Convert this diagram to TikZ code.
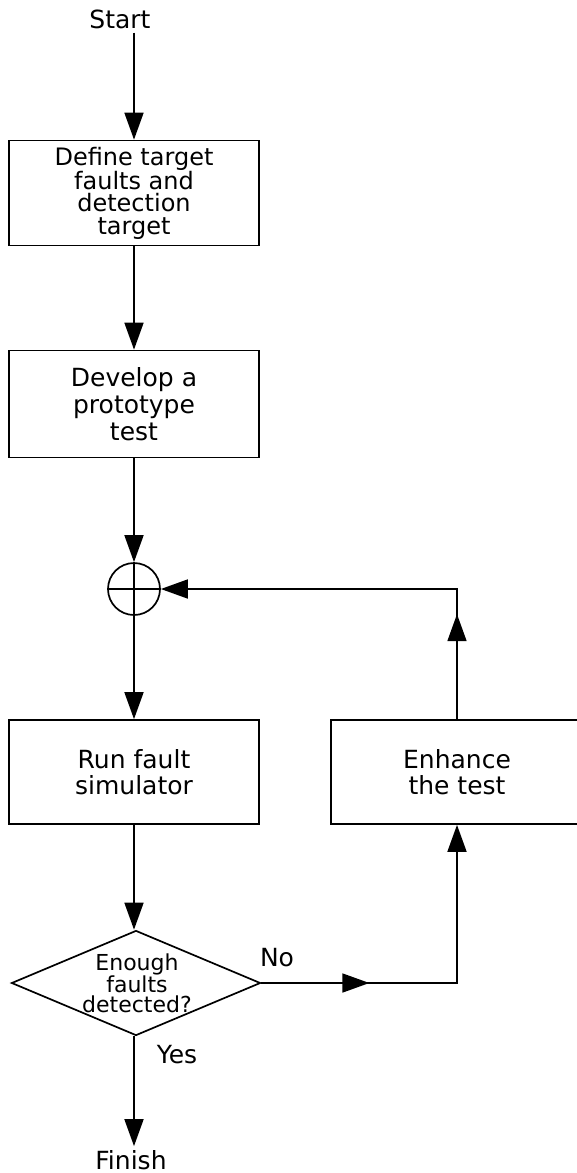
\documentclass[tikz,border=0pt]{standalone}
\usepackage{fontspec}
\setmainfont{DejaVu Sans}
\usetikzlibrary{arrows.meta,shapes.geometric,decorations.markings}
\begin{document}
\begin{tikzpicture}[x=1pt, y=-1pt, line width=1.7pt, >={Triangle[length=27pt,width=19pt]}]
	\tikzset{box/.style={draw, rectangle, inner sep=0pt, minimum width=250pt, minimum height=105pt, align=center, font=\fontsize{25}{26}\selectfont},
		txt/.style={font=\fontsize{25}{26}\selectfont},
		midtip/.style={postaction={decorate}, decoration={markings, mark=at position #1 with {\arrow{>}}}}}
	\useasboundingbox (0,0) rectangle (576,1173);
	\node[txt] (start) at (120,19) {Start};
	\node[box, font=\fontsize{24}{22.5}\selectfont] (def) at (134,193) {Define target\\faults and\\detection\\target};
	\node[box, minimum height=107pt, font=\fontsize{25}{27}\selectfont] (dev) at (134,404) {Develop a\\prototype\\test};
	\node[draw, circle, minimum size=52pt, inner sep=0pt] (sum) at (134,589) {};
	\draw (sum.north) -- (sum.south) (sum.west) -- (sum.east);
	\node[box, minimum height=104pt] (run) at (134,772) {Run fault\\simulator};
	\node[box, minimum width=252pt, minimum height=104pt] (enh) at (457,772) {Enhance\\the test};
	\node[draw, diamond, aspect=2.37, minimum width=249pt, minimum height=105pt, inner sep=0pt] (dec) at (136,983) {};
	\node[align=center, font=\fontsize{22}{20}\selectfont] (dectxt) at (137,983) {Enough\\faults\\detected?};
	\node[txt] (no) at (277,958) {No};
	\node[txt] (yes) at (177,1055) {Yes};
	\node[txt] (finish) at (131,1160) {Finish};
	% main flow
	\draw[->] (start.south -| def.north) -- (def.north);
	\draw[->] (def.south) -- (dev.north);
	\draw[->] (dev.south) -- (sum.north);
	\draw[->] (sum.south) -- (run.north);
	\draw[->] (run.south) -- (run.south |- dec.north);
	\draw[->] (run.south |- dec.south) -- (run.south |- finish.north);
	% loop back
	\draw[->, midtip=108pt] (dec.east) -| (enh.south);
	\draw[->, midtip=105pt] (enh.north) |- (sum.east);
\end{tikzpicture}
\end{document}
